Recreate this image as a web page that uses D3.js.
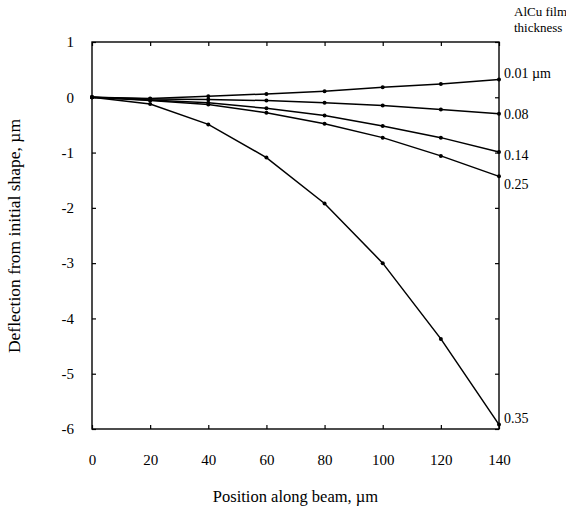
<!DOCTYPE html>
<html>
<head>
<meta charset="utf-8">
<script src="https://cdn.jsdelivr.net/npm/d3@7"></script>
<style>
  html, body { margin: 0; padding: 0; background: #fff; }
  svg { display: block; }
  text { font-family: "Liberation Serif", "Times New Roman", serif; fill: #000; }
</style>
</head>
<body>
<svg id="chart" width="566" height="515"></svg>
<script>
// ---- data ----
const positions = [0, 20, 40, 60, 80, 100, 120, 140];
const thicknessLabels = ["0.01 \u00b5m", "0.08", "0.14", "0.25", "0.35"];
const s001 = [0, -0.02, 0.02, 0.06, 0.11, 0.18, 0.24, 0.32];
const s008 = [0, -0.03, -0.04, -0.06, -0.10, -0.15, -0.22, -0.30];
const s014 = [0, -0.05, -0.10, -0.20, -0.33, -0.52, -0.73, -0.99];
const s025 = [0, -0.06, -0.13, -0.28, -0.48, -0.73, -1.06, -1.43];
const s035 = [0, -0.12, -0.49, -1.09, -1.92, -3.00, -4.37, -5.92];
const xTicks = [0, 20, 40, 60, 80, 100, 120, 140];
const yTicks = [1, 0, -1, -2, -3, -4, -5, -6];
const xTitle = "Position along beam, \u00b5m";
const yTitle = "Deflection from initial shape, \u00b5m";
const legendTitle = ["AlCu film", "thickness"];

const seriesList = [s001, s008, s014, s025, s035];

// ---- layout ----
const L = 92, R = 499, T = 42, B = 429;
const svg = d3.select("#chart");
const x = d3.scaleLinear().domain([0, 140]).range([L, R]);
const y = d3.scaleLinear().domain([-6, 1]).range([B, T]);

// frame
svg.append("rect").attr("x", L).attr("y", T).attr("width", R - L).attr("height", B - T)
  .attr("fill", "none").attr("stroke", "#000").attr("stroke-width", 1.4);

const fmtY = d => (d < 0 ? "-" + Math.abs(d) : String(d));
const gBottom = svg.append("g").attr("transform", `translate(0,${B})`)
  .call(d3.axisBottom(x).tickValues(xTicks).tickSize(-4).tickPadding(25).tickFormat(d3.format("d")));
const gTop = svg.append("g").attr("transform", `translate(0,${T})`)
  .call(d3.axisTop(x).tickValues(xTicks).tickSize(-4).tickFormat(""));
const gLeft = svg.append("g").attr("transform", `translate(${L},0)`)
  .call(d3.axisLeft(y).tickValues(yTicks).tickSize(-4).tickPadding(18).tickFormat(fmtY));
const gRight = svg.append("g").attr("transform", `translate(${R},0)`)
  .call(d3.axisRight(y).tickValues(yTicks).tickSize(-4).tickFormat(""));
[gBottom, gTop, gLeft, gRight].forEach(g => {
  g.select(".domain").remove();
  g.selectAll("line").attr("stroke", "#000").attr("stroke-width", 1.2);
  g.selectAll("text").style("font-family", '"Liberation Serif", serif').style("font-size", "15px").attr("fill", "#000");
});

// lines
const line = d3.line().x((d, i) => x(positions[i])).y(d => y(d));
seriesList.forEach(s => {
  svg.append("path").datum(s).attr("d", line)
    .attr("fill", "none").attr("stroke", "#000").attr("stroke-width", 1.5);
  svg.selectAll(null).data(s).enter().append("circle")
    .attr("cx", (d, i) => x(positions[i])).attr("cy", d => y(d)).attr("r", 2).attr("fill", "#000");
});

// right labels
const lastVals = seriesList.map(s => s[s.length - 1]);
const labelOffsets = [-6, 0, 3, 8, -6];
lastVals.forEach((v, i) => {
  svg.append("text").attr("x", 504).attr("y", y(v) + labelOffsets[i]).attr("dy", "0.35em")
    .style("font-size", "14px").text(thicknessLabels[i]);
});
svg.append("text").attr("x", 514).attr("y", 16).style("font-size", "13px").text(legendTitle[0]);
svg.append("text").attr("x", 514).attr("y", 32).style("font-size", "13px").text(legendTitle[1]);

// titles
svg.append("text").attr("x", (L + R) / 2).attr("y", 502).attr("text-anchor", "middle")
  .style("font-size", "16.5px").text(xTitle);
svg.append("text").attr("transform", `translate(20,236) rotate(-90)`)
  .attr("text-anchor", "middle").style("font-size", "17.5px").text(yTitle);
</script>
</body>
</html>
